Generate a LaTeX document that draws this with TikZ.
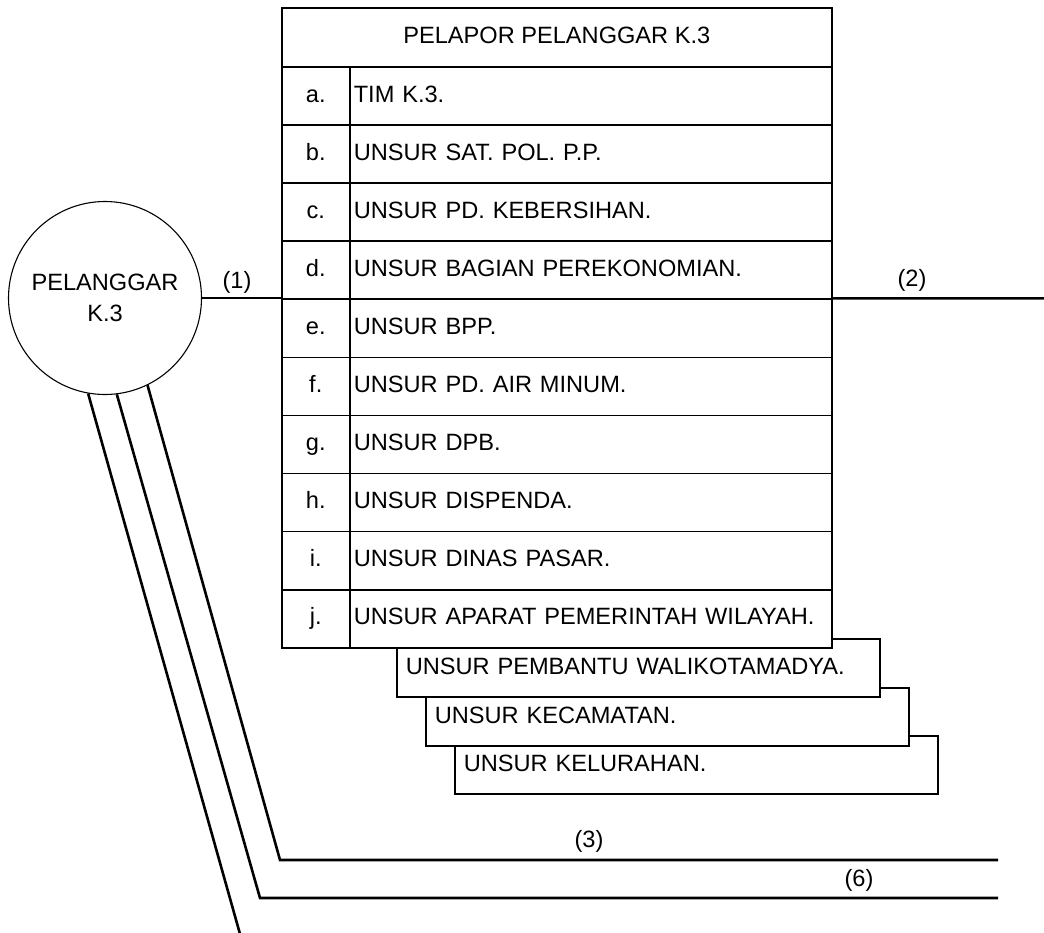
\documentclass[tikz,border=0pt]{standalone}
\usepackage{fontspec}
\setmainfont{Liberation Sans}
\begin{document}
\begin{tikzpicture}[x=0.5pt,y=-0.5pt,
  every node/.style={font=\fontsize{11.8pt}{15.5pt}\selectfont},
  cell/.style={draw, line width=0.8pt, fill=white, inner sep=0pt, anchor=north west, minimum height=29.05pt, text height=8.6pt, text depth=2.4pt},
  lettercell/.style={cell, minimum width=34pt, align=center},
  itemcell/.style={cell, minimum width=241pt, text width=237pt, align=left, inner xsep=2pt},
  headcell/.style={cell, minimum width=275pt, minimum height=29.5pt, align=center},
  stackbox/.style={draw, line width=0.8pt, fill=white, anchor=north west, inner ysep=0pt, inner xsep=4.5pt, minimum width=241.5pt, text width=232.5pt, align=left, minimum height=29pt, text height=8.6pt, text depth=2.4pt},
  circ/.style={circle, draw, line width=0.55pt, minimum size=96.5pt, inner sep=0pt, align=center},
  conn/.style={draw, line width=1.3pt},
  lbl/.style={inner sep=1pt, text height=8.6pt, text depth=2.4pt}
]
\useasboundingbox (0,0) rectangle (1044,932);

% stacked boxes (drawn back to front)
\node[stackbox] (s3) at (454,735) {UNSUR KELURAHAN.};
\node[stackbox] (s2) at (425,687) {UNSUR KECAMATAN.};
\node[stackbox] (s1) at (396,638) {UNSUR PEMBANTU WALIKOTAMADYA.};

% table
\node[headcell] (head) at (281,7) {PELAPOR PELANGGAR K.3};
\foreach \l/\t [count=\i from 0] in {a./TIM K.3., b./UNSUR SAT. POL. P.P., c./UNSUR PD. KEBERSIHAN., d./UNSUR BAGIAN PEREKONOMIAN., e./UNSUR BPP., f./UNSUR PD. AIR MINUM., g./UNSUR DPB., h./UNSUR DISPENDA., i./UNSUR DINAS PASAR., j./UNSUR APARAT PEMERINTAH WILAYAH.}{
  \node[lettercell] (L\i) at (281,{66+58.1*\i}) {\l};
  \node[itemcell] (T\i) at (349,{66+58.1*\i}) {\t};
}

% circle
\node[circ] (c) at (105,298) {PELANGGAR\\K.3};

% connectors
\coordinate (e2) at (1044,298.4);
\coordinate (k3) at (280,860);
\coordinate (e3) at (998,860);
\coordinate (k6) at (260,898);
\coordinate (e6) at (998,898);
\coordinate (e7) at (240,934);

\draw[conn] (c.east) -- (c.east -| L4.north west);
\draw[conn] (T4.north east) -- (e2);
\draw[conn] (c.296) -- (k3) -- (e3);
\draw[conn] (c.277) -- (k6) -- (e6);
\draw[conn] (c.260) -- (e7);

% labels
\node[lbl] (l1) at (237,282) {(1)};
\node[lbl] (l2) at (912,280) {(2)};
\node[lbl] (l3) at (589,841) {(3)};
\node[lbl] (l6) at (859,880) {(6)};
\end{tikzpicture}
\end{document}
